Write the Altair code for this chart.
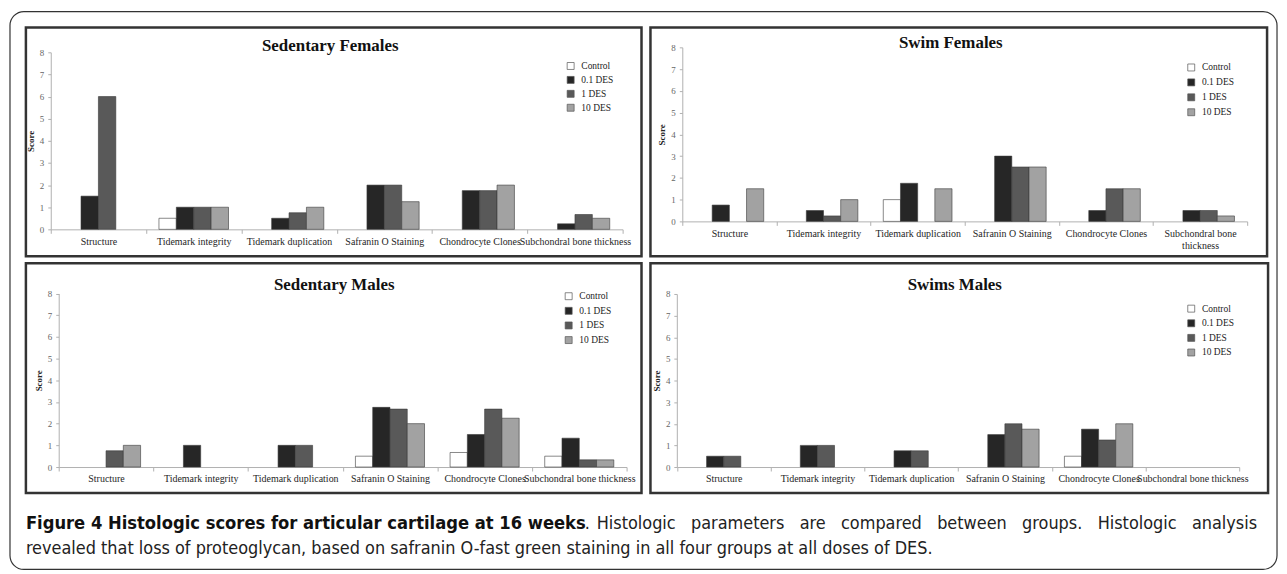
import altair as alt
import pandas as pd

categories = ["Structure", "Tidemark integrity", "Tidemark duplication",
              "Safranin O Staining", "Chondrocyte Clones", "Subchondral bone thickness"]
groups = ["Control", "0.1 DES", "1 DES", "10 DES"]
bar_colors = ["#ffffff", "#262626", "#595959", "#a2a2a2"]

# Sedentary Females
sed_f_control = [0, 0.5, 0, 0, 0, 0]
sed_f_01 = [1.5, 1, 0.5, 2, 1.75, 0.25]
sed_f_1 = [6, 1, 0.75, 2, 1.75, 0.67]
sed_f_10 = [0, 1, 1, 1.25, 2, 0.5]
# Swim Females
swim_f_control = [0, 0, 1, 0, 0, 0]
swim_f_01 = [0.75, 0.5, 1.75, 3, 0.5, 0.5]
swim_f_1 = [0, 0.25, 0, 2.5, 1.5, 0.5]
swim_f_10 = [1.5, 1, 1.5, 2.5, 1.5, 0.25]
# Sedentary Males
sed_m_control = [0, 0, 0, 0.5, 0.67, 0.5]
sed_m_01 = [0, 1, 1, 2.75, 1.5, 1.33]
sed_m_1 = [0.75, 0, 1, 2.67, 2.67, 0.33]
sed_m_10 = [1, 0, 0, 2, 2.25, 0.33]
# Swims Males
swim_m_control = [0, 0, 0, 0, 0.5, 0]
swim_m_01 = [0.5, 1, 0.75, 1.5, 1.75, 0]
swim_m_1 = [0.5, 1, 0.75, 2, 1.25, 0]
swim_m_10 = [0, 0, 0, 1.75, 2, 0]

caption_bold = "Figure 4 Histologic scores for articular cartilage at 16 weeks"
caption_dot = "."
caption_rest1 = "Histologic parameters are compared between groups. Histologic analysis"
caption_line2 = ("revealed that loss of proteoglycan, based on safranin O-fast green staining "
                 "in all four groups at all doses of DES.")

SERIF = "Liberation Serif"
CAPFONT = "Liberation Sans Narrow, DejaVu Sans Condensed, Liberation Sans, sans-serif"
NB = "\u00a0"


def make_df(ctrl, d01, d1, d10):
    rows = []
    for g, vals in zip(groups, [ctrl, d01, d1, d10]):
        for c, v in zip(categories, vals):
            rows.append({"category": c, "group": g, "score": v})
    return pd.DataFrame(rows)


def panel(df, title, w, h, xr, yr, tpos, lpos, lrow, wrap=False):
    label_expr = "datum.label"
    if wrap:
        label_expr = ("datum.label == 'Subchondral bone thickness' ? "
                      "['Subchondral bone', 'thickness'] : datum.label")
    bars = alt.Chart(df).transform_filter("datum.score > 0").mark_bar(
        stroke="#3a3a3a", strokeWidth=0.6
    ).encode(
        x=alt.X("category:N",
                scale=alt.Scale(domain=categories, range=[xr[0], xr[1]],
                                paddingInner=0, paddingOuter=0),
                axis=alt.Axis(title=None, orient="bottom", offset=yr[0] - h,
                              labelAngle=0, labelFont=SERIF, labelFontSize=10,
                              labelColor="#1e1e1e", labelPadding=3,
                              labelOverlap=False, labelBound=False, labelLimit=0,
                              labelExpr=label_expr, labelLineHeight=12,
                              tickBand="extent", tickSize=4, tickColor="#b0b0b0",
                              domainColor="#b0b0b0", grid=False)),
        xOffset=alt.XOffset("group:N",
                            scale=alt.Scale(domain=groups, paddingInner=0,
                                            paddingOuter=0.74)),
        y=alt.Y("score:Q",
                scale=alt.Scale(domain=[0, 8], range=[yr[0], yr[1]], nice=False),
                axis=alt.Axis(title="Score", offset=-xr[0], values=list(range(9)),
                              format="d", labelFont=SERIF, labelFontSize=9,
                              labelColor="#666666", labelPadding=4, tickSize=3,
                              tickColor="#b0b0b0", domainColor="#b0b0b0",
                              titleFont=SERIF, titleFontSize=9, titleFontWeight="bold",
                              titleColor="#222222", titlePadding=4, grid=False)),
        fill=alt.Fill("group:N",
                      scale=alt.Scale(domain=groups, range=bar_colors),
                      legend=alt.Legend(title=None, orient="none",
                                        legendX=lpos[0], legendY=lpos[1],
                                        symbolType="square", symbolSize=49,
                                        symbolStrokeColor="#555555",
                                        symbolStrokeWidth=0.7,
                                        labelFont=SERIF, labelFontSize=9.5,
                                        labelColor="#222222", labelOffset=6,
                                        rowPadding=lrow, padding=0)),
    )
    ttl = alt.Chart(pd.DataFrame({"t": [title]})).mark_text(
        font=SERIF, fontSize=17, fontWeight="bold", color="#111111",
        align="center", baseline="middle"
    ).encode(text="t:N", x=alt.value(tpos[0]), y=alt.value(tpos[1]))
    return bars, ttl


df_sf = make_df(sed_f_control, sed_f_01, sed_f_1, sed_f_10)
df_wf = make_df(swim_f_control, swim_f_01, swim_f_1, swim_f_10)
df_sm = make_df(sed_m_control, sed_m_01, sed_m_1, sed_m_10)
df_wm = make_df(swim_m_control, swim_m_01, swim_m_1, swim_m_10)

b1, t1 = panel(df_sf, "Sedentary Females", 619, 230, (25, 600), (203, 25), (306, 19), (543, 34), 3)
b2, t2 = panel(df_wf, "Swim Females", 620, 230, (32, 600), (195, 20), (302, 16), (539, 35.5), 4, wrap=True)
b3, t3 = panel(df_sm, "Sedentary Males", 619, 231, (33, 604), (205, 30.5), (310, 21.5), (541, 28.5), 3.7)
b4, t4 = panel(df_wm, "Swims Males", 621, 231, (26.5, 592), (205, 31), (306, 21.5), (539, 41), 3.7)

one = pd.DataFrame({"a": [0]})
outer = alt.Chart(one).mark_rect(
    fill=None, stroke="#333333", strokeWidth=1.2, cornerRadius=14
).encode(x=alt.value(-16), y=alt.value(-16), x2=alt.value(1258), y2=alt.value(545))

# justified first caption line: widen the word gaps of the regular part
rest1_justified = (NB * 3).join(caption_rest1.split(" "))

cap1 = alt.Chart(pd.DataFrame({"t": [caption_bold]})).mark_text(
    font=CAPFONT, fontSize=18.3, fontWeight="bold", color="#111111",
    align="left", baseline="alphabetic"
).encode(text="t:N", x=alt.value(0), y=alt.value(504))
cap_dot = alt.Chart(pd.DataFrame({"t": [caption_dot]})).mark_text(
    font=CAPFONT, fontSize=18, color="#222222", align="left", baseline="alphabetic"
).encode(text="t:N", x=alt.value(562), y=alt.value(504))
cap2 = alt.Chart(pd.DataFrame({"t": [rest1_justified]})).mark_text(
    font=CAPFONT, fontSize=18, color="#222222", align="right", baseline="alphabetic"
).encode(text="t:N", x=alt.value(1238), y=alt.value(504))
cap3 = alt.Chart(pd.DataFrame({"t": [caption_line2]})).mark_text(
    font=CAPFONT, fontSize=18, color="#222222", align="left", baseline="alphabetic"
).encode(text="t:N", x=alt.value(0), y=alt.value(529))

p1 = alt.layer(b1, t1, outer, cap1, cap_dot, cap2, cap3).properties(width=619, height=230)
p2 = alt.layer(b2, t2).properties(width=620, height=230)
p3 = alt.layer(b3, t3).properties(width=619, height=231)
p4 = alt.layer(b4, t4).properties(width=621, height=231)

chart = alt.concat(
    p1, p2, p3, p4, columns=2, spacing={"row": 7, "column": 9}, bounds="flush"
).resolve_scale(
    x="independent", y="independent", xOffset="independent", fill="independent"
).resolve_legend(fill="independent").properties(
    padding=0, background="white"
).configure_view(
    stroke="#333333", strokeWidth=2.5, fill="white"
)

chart.save("out.html", embed_options={"renderer": "svg", "actions": False})
